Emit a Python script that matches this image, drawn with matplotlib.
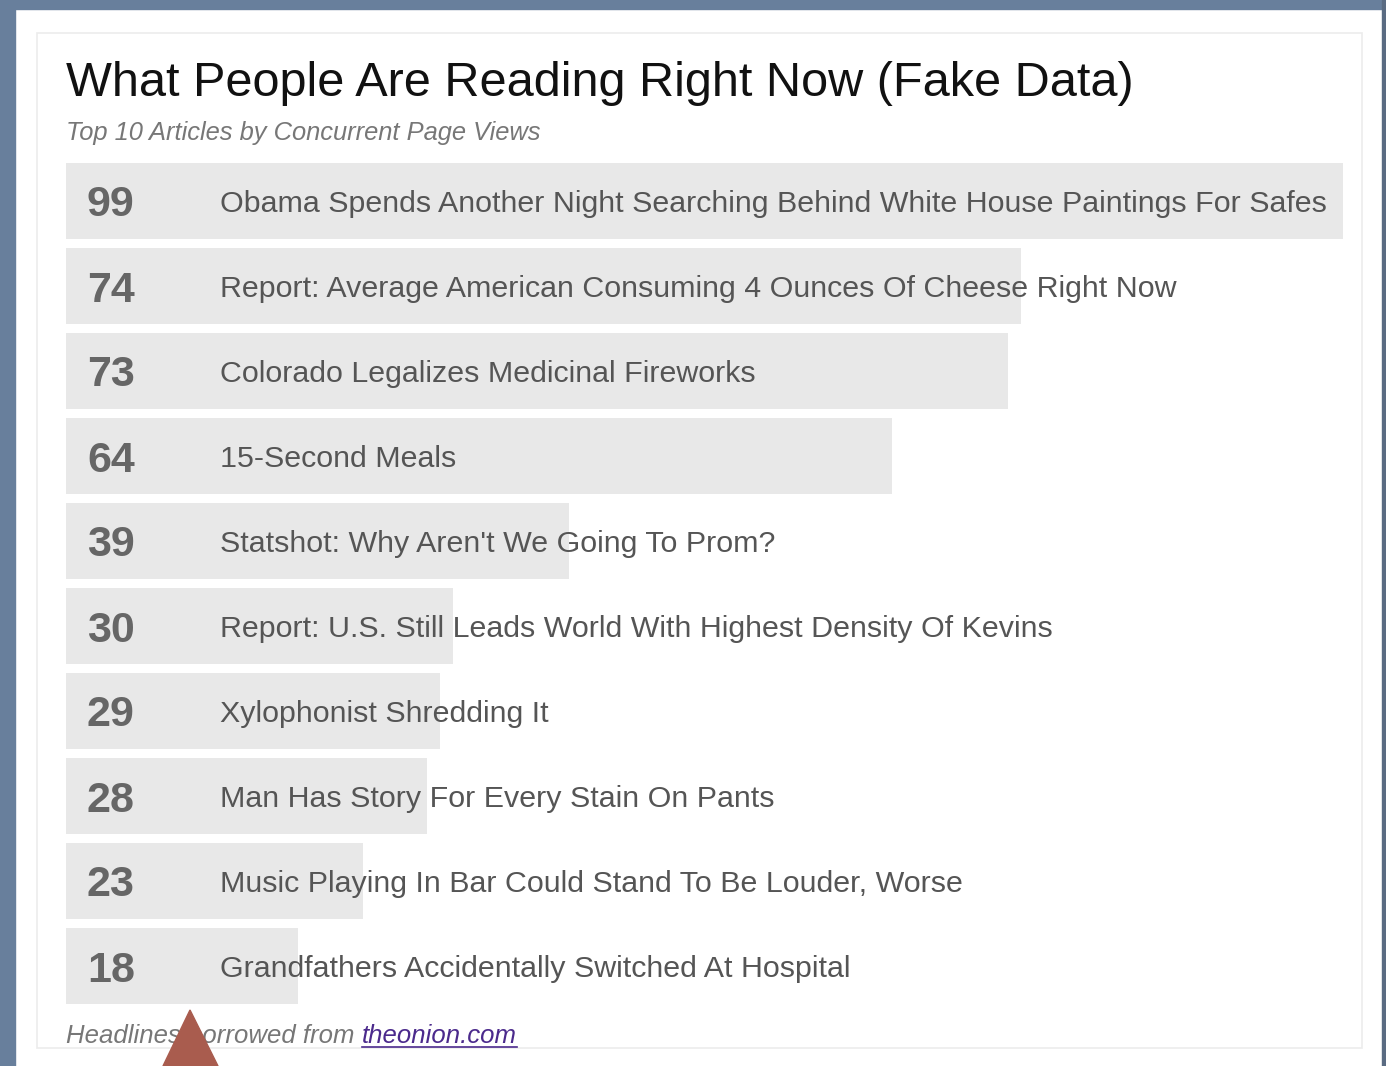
import matplotlib
matplotlib.use("Agg")
import matplotlib.pyplot as plt
from matplotlib.patches import Rectangle, Polygon

# data
page_views = [99, 74, 73, 64, 39, 30, 29, 28, 23, 18]
headlines = [
    "Obama Spends Another Night Searching Behind White House Paintings For Safes",
    "Report: Average American Consuming 4 Ounces Of Cheese Right Now",
    "Colorado Legalizes Medicinal Fireworks",
    "15-Second Meals",
    "Statshot: Why Aren't We Going To Prom?",
    "Report: U.S. Still Leads World With Highest Density Of Kevins",
    "Xylophonist Shredding It",
    "Man Has Story For Every Stain On Pants",
    "Music Playing In Bar Could Stand To Be Louder, Worse",
    "Grandfathers Accidentally Switched At Hospital",
]
title = "What People Are Reading Right Now (Fake Data)"
subtitle = "Top 10 Articles by Concurrent Page Views"

W, H = 1386, 1066
plt.rcParams['font.family'] = ['Liberation Sans', 'DejaVu Sans']
fig = plt.figure(figsize=(W / 100, H / 100), dpi=100)
fig.patch.set_facecolor("white")

def px(x, y):
    # pixel coords (top-left origin) -> figure fraction
    return x / W, 1 - y / H

# page frame around the widget
frame = "#687f9c"
fig.patches.append(Rectangle((0, 1 - 9 / H), 1, 9 / H, transform=fig.transFigure, color=frame, zorder=-2))
fig.patches.append(Rectangle((0, 0), 15 / W, 1, transform=fig.transFigure, color=frame, zorder=-2))
fig.patches.append(Rectangle((1382 / W, 0), 4 / W, 1, transform=fig.transFigure, color="#5a6b82", zorder=-2))
x0, y0 = px(37, 1048)
x1, y1 = px(1362, 33)
fig.patches.append(Rectangle((x0, y0), x1 - x0, y1 - y0, transform=fig.transFigure,
                             facecolor="white", edgecolor="#ececec", lw=1.2, zorder=-1))

# bars
ax = fig.add_axes([66 / W, 1 - 1004 / H, 1277 / W, 841 / H])
ax.set_zorder(1)
ax.set_facecolor("none")
n = len(page_views)
bh = 76 / 85
rows = list(range(n))
ax.barh(rows, page_views, height=bh, color="#e8e8e8", align="center", zorder=1)
ax.set_xlim(0, max(page_views))
ax.set_ylim(n - 1 + bh / 2, -bh / 2)
ax.axis("off")

for i, (v, h) in enumerate(zip(page_views, headlines)):
    ax.annotate(str(v), xy=(0, i), xytext=(21 * 0.72, 0), textcoords="offset points",
                va="center_baseline", ha="left", fontsize=31, fontweight="bold", color="#666666", zorder=3)
    ax.annotate(h, xy=(0, i), xytext=(154 * 0.72, 0), textcoords="offset points",
                va="center_baseline", ha="left", fontsize=21.9, color="#555555", zorder=3)

fig.text(*px(66, 96), title, fontsize=35, color="#111111", ha="left", va="baseline")
fig.text(*px(66, 140), subtitle, fontsize=18.4, style="italic", color="#777777", ha="left", va="baseline")

t = fig.text(*px(66, 1043), "Headlines borrowed from ", fontsize=18.5, style="italic", color="#777777",
             ha="left", va="baseline")
fig.canvas.draw()
bb = t.get_window_extent()
link = fig.text(bb.x1 / W, 1 - 1043 / H, "theonion.com", fontsize=18.5, style="italic", color="#4b2a8c",
                ha="left", va="baseline")
fig.canvas.draw()
lb = link.get_window_extent()
fig.lines.append(plt.Line2D([lb.x0 / W, lb.x1 / W], [1 - 1047 / H] * 2, transform=fig.transFigure,
                            color="#4b2a8c", lw=1.2))

# red pointer triangle
fig.patches.append(Polygon([px(163, 1066), px(218, 1066), px(190, 1010)], closed=True,
                           transform=fig.transFigure, color="#a95c4e", zorder=5))

fig.savefig("out.png", dpi=100)
